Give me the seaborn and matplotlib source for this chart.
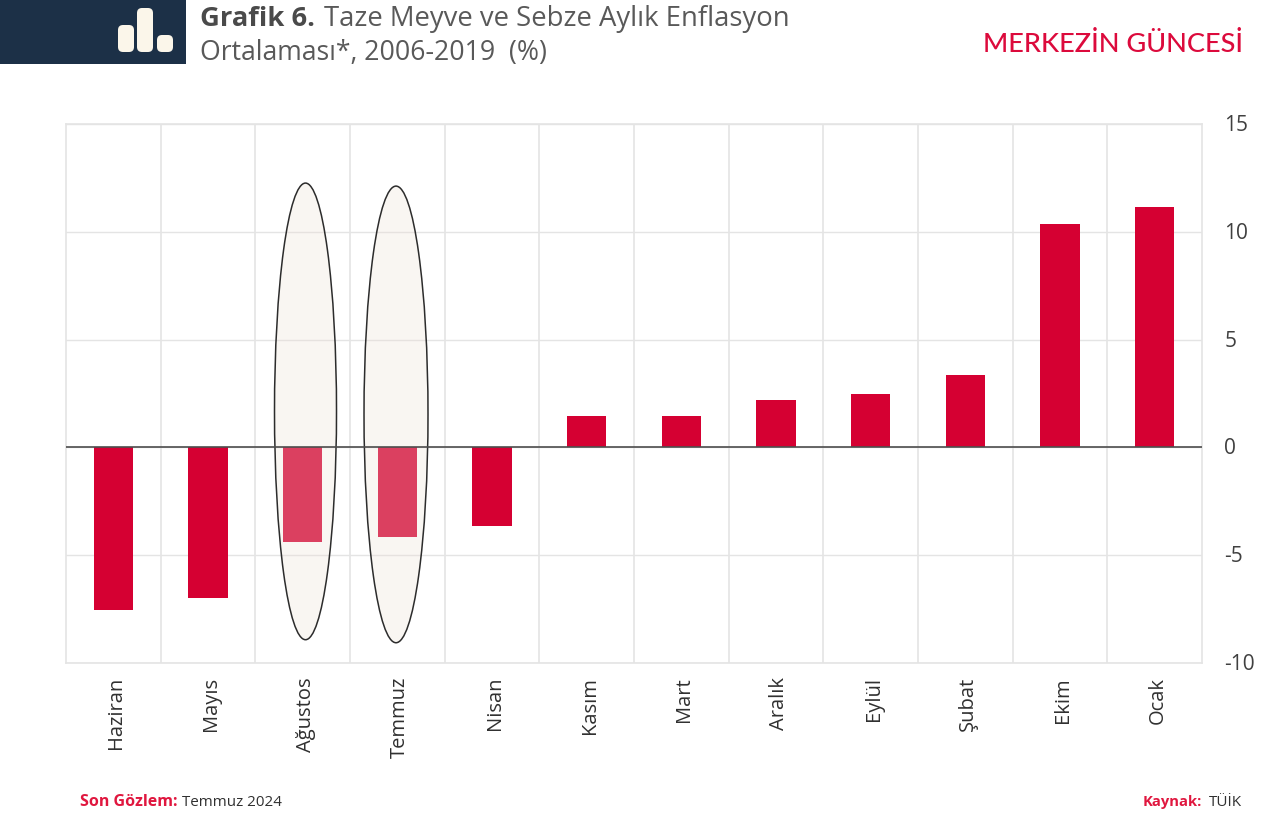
import matplotlib
matplotlib.use("Agg")
import matplotlib.pyplot as plt
import seaborn as sns
from matplotlib.patches import Ellipse, FancyBboxPatch, Rectangle
from matplotlib.transforms import ScaledTranslation

months = ["Haziran", "Mayıs", "Ağustos", "Temmuz", "Nisan", "Kasım",
          "Mart", "Aralık", "Eylül", "Şubat", "Ekim", "Ocak"]
inflation = [-7.53, -6.98, -4.38, -4.15, -3.64, 1.46,
             1.46, 2.2, 2.48, 3.36, 10.36, 11.15]
y_ticks = [-10, -5, 0, 5, 10, 15]

RED = "#D50032"
NAVY = "#1C3047"
GRID = "#E4E4E4"
W, H = 1280, 825

sns.set_theme(style="whitegrid")
plt.rcParams['font.family'] = ['Open Sans', 'DejaVu Sans']

fig = plt.figure(figsize=(W / 100, H / 100), dpi=100)
ax = fig.add_axes([66 / W, 1 - 663 / H, (1202 - 66) / W, (663 - 124) / H])

sns.barplot(x=months, y=inflation, color=RED, width=0.415, saturation=1, linewidth=0, ax=ax, zorder=3)

ax.set_xlim(-0.5, 11.5)
ax.set_ylim(-10, 15)
ax.set_yticks(y_ticks)
ax.set_yticklabels([str(t) for t in y_ticks])  # plain hyphen, not the unicode minus
ax.yaxis.tick_right()
ax.tick_params(axis='y', length=0, labelsize=15, labelcolor="#404040", pad=16, right=False, left=False)
ax.tick_params(axis='x', length=0, labelsize=14.5, labelcolor="#303030", pad=10)
ax.set_xticks(range(len(months)))
ax.set_xticklabels(months, rotation=90)
ax.set_xlabel("")

# small nudges so the labels sit where they do in the original
down = ScaledTranslation(0, -1.5 / 100, fig.dpi_scale_trans)
right = ScaledTranslation(3 / 100, 0, fig.dpi_scale_trans)
for lab in ax.get_yticklabels():
    lab.set_ha('left')
    lab.set_va('center')
    lab.set_transform(lab.get_transform() + down)
for lab in ax.get_xticklabels():
    lab.set_transform(lab.get_transform() + right)

# separators between the months instead of gridlines on the ticks
ax.set_xticks([i + 0.5 for i in range(len(months) - 1)], minor=True)
ax.tick_params(axis='x', which='minor', length=0)
ax.grid(False, axis='x', which='major')
ax.grid(True, axis='x', which='minor', color=GRID, linewidth=1.2)
ax.grid(True, axis='y', color=GRID, linewidth=1.0)
ax.set_axisbelow(True)
for s in ax.spines.values():
    s.set_color(GRID)
    s.set_linewidth(1.2)

ax.axhline(0, color="#4D4D4D", linewidth=1.2, zorder=5)

# highlight ellipses over Ağustos and Temmuz
for idx, off, yc, w_e in [(months.index("Ağustos"), 0.03, 1.67, 0.655),
                          (months.index("Temmuz"), -0.014, 1.53, 0.676)]:
    ax.add_patch(Ellipse((idx + off, yc), w_e, 21.18, facecolor=(237 / 255, 224 / 255, 211 / 255, 0.286),
                         edgecolor=(0.13, 0.13, 0.13, 0.95), linewidth=1.1, zorder=4))


def px_box(x0, y0, x1, y1, **kw):
    fig.add_artist(Rectangle((x0 / W, 1 - y1 / H), (x1 - x0) / W, (y1 - y0) / H,
                             transform=fig.transFigure, **kw))


# header logo
px_box(0, 0, 186, 64, facecolor=NAVY, edgecolor="none")
for x0, y0, x1 in [(118, 25, 134), (137, 8, 153), (157, 35, 173)]:
    r = 5
    fig.add_artist(FancyBboxPatch(((x0 + r), (H - 52 + r)), x1 - x0 - 2 * r, 52 - y0 - 2 * r,
                                  boxstyle=f"round,pad={r},rounding_size={r}",
                                  transform=None, facecolor="#FBF6EA", edgecolor="none"))

# title, bold part first then the rest after it
title_a = fig.text(200 / W, 1 - 26 / H, "Grafik 6.", fontsize=19.7, fontweight='bold', color="#4A4A4A", va='baseline')
fig.canvas.draw()
end = title_a.get_window_extent().x1
fig.text((end + 9) / W, 1 - 26 / H, "Taze Meyve ve Sebze Aylık Enflasyon", fontsize=19.8, color="#595959", va='baseline')
fig.text(200 / W, 1 - 60 / H, "Ortalaması*, 2006-2019  (%)", fontsize=19.2, color="#595959", va='baseline')

fig.text(1243 / W, 1 - 52 / H, "MERKEZİN GÜNCESİ", fontsize=19.5, fontweight='medium', color="#DC0A3C", ha='right',
         va='baseline', family=['Lato', 'DejaVu Sans'])

# footer
foot_a = fig.text(80 / W, 1 - 806 / H, "Son Gözlem:", fontsize=11.5, fontweight='bold', color="#E0173F", va='baseline')
fig.canvas.draw()
fig.text((foot_a.get_window_extent().x1 + 5) / W, 1 - 806 / H, "Temmuz 2024", fontsize=10.9, color="#303030", va='baseline')
fig.text(1202 / W, 1 - 806 / H, "Kaynak:", fontsize=10.6, fontweight='bold', color="#E0173F", ha='right', va='baseline')
fig.text(1242 / W, 1 - 806 / H, "TÜİK", fontsize=11, color="#303030", ha='right', va='baseline')

fig.savefig("out.png", dpi=100)
